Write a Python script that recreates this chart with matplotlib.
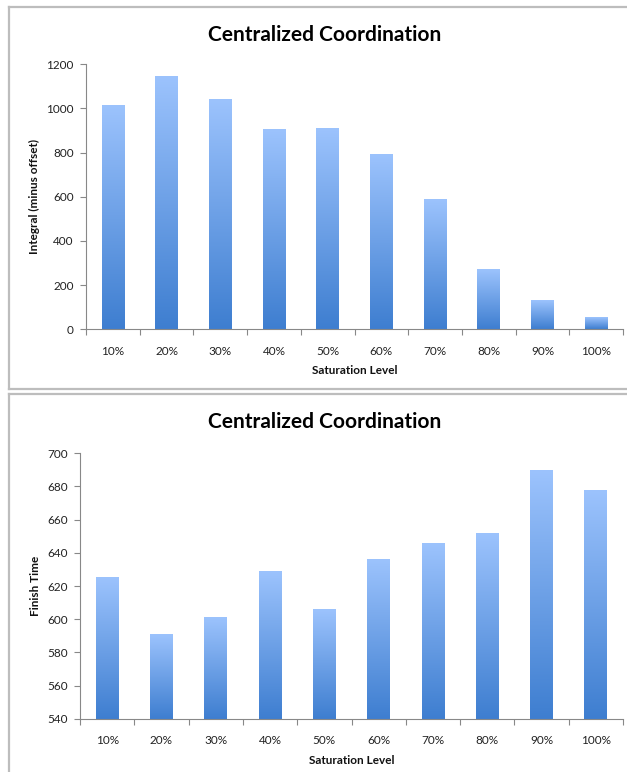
import matplotlib
matplotlib.use("Agg")
import matplotlib.pyplot as plt
import numpy as np
from matplotlib.colors import LinearSegmentedColormap
from matplotlib.lines import Line2D

categories = ["10%", "20%", "30%", "40%", "50%", "60%", "70%", "80%", "90%", "100%"]
integral_values = [1010, 1145, 1040, 905, 908, 790, 588, 268, 130, 50]
finish_values = [625, 591, 601, 629, 606, 636, 646, 652, 690, 678]
title_text = "Centralized Coordination"
xlabel_text = "Saturation Level"
ylabel_top = "Integral (minus offset)"
ylabel_bottom = "Finish Time"

plt.rcParams['font.family'] = ['Lato', 'DejaVu Sans']

W, H = 627, 772
fig = plt.figure(figsize=(W / 100, H / 100), dpi=100)

cmap = LinearSegmentedColormap.from_list("grad", ["#3E7ED0", "#9CC3FD"])
grad = np.linspace(0, 1, 256).reshape(-1, 1)

def gradient_bars(ax, values, base):
    x = np.arange(len(values))
    bars = ax.bar(x, np.array(values) - base, bottom=base, width=0.42,
                  color="none", edgecolor="none", zorder=2)
    for b in bars:
        x0, y0 = b.get_x(), b.get_y()
        w, h = b.get_width(), b.get_height()
        ax.imshow(grad, extent=[x0, x0 + w, y0, y0 + h], origin="lower",
                  cmap=cmap, aspect="auto", zorder=2, interpolation="bilinear")

def style_axes(ax, ylim, yticks, ylabel):
    n = len(categories)
    ax.set_xlim(-0.5, n - 0.5)
    ax.set_ylim(*ylim)
    ax.set_yticks(yticks)
    ax.set_yticklabels([str(v) for v in yticks])
    ax.set_xticks(np.arange(n))
    ax.set_xticklabels(categories)
    ax.set_xticks(np.arange(n + 1) - 0.5, minor=True)
    ax.tick_params(axis="x", which="major", length=0, pad=12, labelsize=8.5, colors="#222222")
    ax.tick_params(axis="x", which="minor", length=4, width=0.8, color="#888888", direction="out")
    ax.tick_params(axis="y", which="major", length=4, width=0.8, color="#888888",
                   direction="out", labelsize=8.5, labelcolor="#222222", pad=5)
    for s in ["top", "right"]:
        ax.spines[s].set_visible(False)
    for s in ["left", "bottom"]:
        ax.spines[s].set_color("#888888")
        ax.spines[s].set_linewidth(0.8)
    ax.set_xlabel(xlabel_text, fontsize=8.5, fontweight="bold", labelpad=6, color="#111111")
    ax.set_ylabel(ylabel, fontsize=8.5, fontweight="bold", labelpad=4, color="#111111")
    ax.set_facecolor("none")

# Top chart
ax1 = fig.add_axes([86 / W, 1 - 329.3 / H, 537 / W, 265 / H])
gradient_bars(ax1, integral_values, 0)
style_axes(ax1, (0, 1200), list(range(0, 1201, 200)), ylabel_top)

# Bottom chart
ax2 = fig.add_axes([80 / W, 1 - 718.8 / H, 543 / W, 265.5 / H])
gradient_bars(ax2, finish_values, 540)
style_axes(ax2, (540, 700), list(range(540, 701, 20)), ylabel_bottom)

# Titles
fig.text(325 / W, 1 - 35 / H, title_text, ha="center", va="center",
         fontsize=15, fontweight="bold", color="#000000")
fig.text(325 / W, 1 - 422 / H, title_text, ha="center", va="center",
         fontsize=15, fontweight="bold", color="#000000")

# Panel borders
bc = "#BDBDBD"
lw = 1.6
def fline(x0, y0, x1, y1):
    fig.add_artist(Line2D([x0 / W, x1 / W], [1 - y0 / H, 1 - y1 / H],
                          color=bc, linewidth=lw, transform=fig.transFigure))
# top panel
fline(9, 7, 640, 7)
fline(9, 7, 9, 389)
fline(9, 389, 640, 389)
# bottom panel
fline(9, 394, 640, 394)
fline(9, 394, 9, 780)

fig.savefig("out.png", dpi=100)
